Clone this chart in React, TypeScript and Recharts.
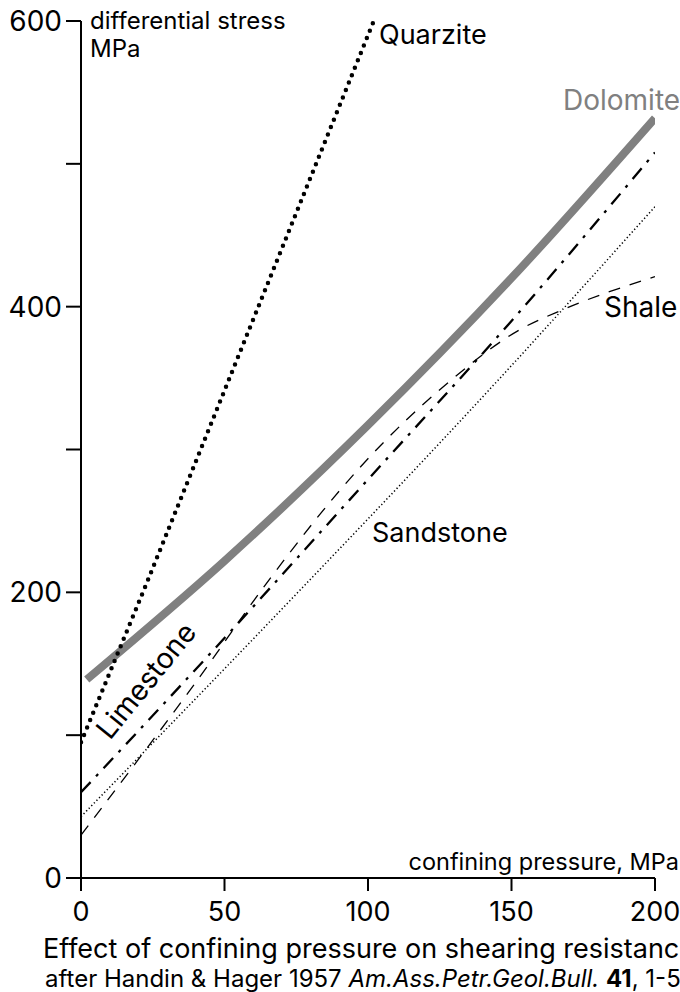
import React from 'react';
import { LineChart, Line, XAxis, YAxis } from 'recharts';

// confining pressure (MPa) / differential stress (MPa)
const quarziteX = [0, 23, 102];
const quarziteY = [95, 207, 600];
const dolomiteX = [2, 50, 100, 150, 200];
const dolomiteY = [139, 222, 317, 420, 532];
const limestoneX = [0, 50, 100, 150, 200];
const limestoneY = [60, 168, 279, 390, 508];
const sandstoneX = [0, 67, 146, 200];
const sandstoneY = [43, 182, 350, 470];
const shaleX = [0, 20, 40, 66, 97, 128, 153, 168, 200];
const shaleY = [30, 83, 137, 210, 287, 347, 384, 398, 421];

const xTicks = [0, 50, 100, 150, 200];
const yTicks = [0, 100, 200, 300, 400, 500, 600];
const yLabelled = [0, 200, 400, 600];

const toData = (xs: number[], ys: number[]) => xs.map((x, i) => ({ x, y: ys[i] }));

const FONT = 'Inter, "Liberation Sans", Arial, sans-serif';

export default function App() {
  const W = 680;
  const H = 992;
  return (
    <div style={{ position: 'absolute', left: 0, top: 0, width: W, height: H, background: '#fff', fontFamily: FONT }}>
      <LineChart width={W} height={H} margin={{ top: 21, right: 25, bottom: 64, left: 0 }}>
        <XAxis
          type="number"
          dataKey="x"
          domain={[0, 200]}
          ticks={xTicks}
          allowDataOverflow
          height={50}
          tickSize={13}
          tickMargin={11}
          axisLine={{ stroke: '#000', strokeWidth: 2 }}
          tickLine={{ stroke: '#000', strokeWidth: 2 }}
          tick={{ fill: '#000', fontSize: 27, fontFamily: FONT }}
          interval={0}
        />
        <YAxis
          type="number"
          dataKey="y"
          domain={[0, 600]}
          ticks={yTicks}
          allowDataOverflow
          width={81}
          tickSize={15}
          tickMargin={4}
          axisLine={{ stroke: '#000', strokeWidth: 2 }}
          tickLine={{ stroke: '#000', strokeWidth: 2 }}
          tick={{ fill: '#000', fontSize: 28, fontFamily: FONT }}
          tickFormatter={(v: number) => (yLabelled.includes(v) ? String(v) : '')}
          interval={0}
        />
        <Line
          data={toData(shaleX, shaleY)}
          dataKey="y"
          type="monotone"
          stroke="#000"
          strokeWidth={1.3}
          strokeDasharray="12 10"
          dot={false}
          activeDot={false}
          isAnimationActive={false}
        />
        <Line
          data={toData(sandstoneX, sandstoneY)}
          dataKey="y"
          type="monotone"
          stroke="#000"
          strokeWidth={1.5}
          strokeDasharray="1.3 2.4"
          dot={false}
          activeDot={false}
          isAnimationActive={false}
        />
        <Line
          data={toData(limestoneX, limestoneY)}
          dataKey="y"
          type="monotone"
          stroke="#000"
          strokeWidth={2.3}
          strokeDasharray="14 8 3 8"
          dot={false}
          activeDot={false}
          isAnimationActive={false}
        />
        <Line
          data={toData(dolomiteX, dolomiteY)}
          dataKey="y"
          type="monotone"
          stroke="#808080"
          strokeWidth={8}
          dot={false}
          activeDot={false}
          isAnimationActive={false}
        />
        <Line
          data={toData(quarziteX, quarziteY)}
          dataKey="y"
          type="linear"
          stroke="#000"
          strokeWidth={4.5}
          strokeDasharray="0 8"
          strokeLinecap="round"
          dot={false}
          activeDot={false}
          isAnimationActive={false}
        />
      </LineChart>
      <svg width={W} height={H} style={{ position: 'absolute', left: 0, top: 0, pointerEvents: 'none' }}>
        <g fontFamily={FONT} fill="#000">
          <text x={90} y={29} fontSize={24}>differential stress</text>
          <text x={90} y={57} fontSize={24}>MPa</text>
          <text x={679} y={870} fontSize={23.5} textAnchor="end">confining pressure, MPa</text>
          <text x={379} y={44} fontSize={27}>Quarzite</text>
          <text x={563} y={110} fontSize={28} fill="#808080">Dolomite</text>
          <text x={604} y={317} fontSize={28}>Shale</text>
          <text x={372} y={542} fontSize={27}>Sandstone</text>
          <text x={110} y={741} fontSize={28.5} transform="rotate(-51 110 741)">Limestone</text>
          <text x={43} y={958} fontSize={27}>Effect of confining pressure on shearing resistance</text>
          <text x={45} y={987} fontSize={24}>
            after Handin &amp; Hager 1957 <tspan fontStyle="italic">Am.Ass.Petr.Geol.Bull.</tspan>{' '}
            <tspan fontWeight="bold">41</tspan>, 1-50
          </text>
        </g>
      </svg>
    </div>
  );
}
